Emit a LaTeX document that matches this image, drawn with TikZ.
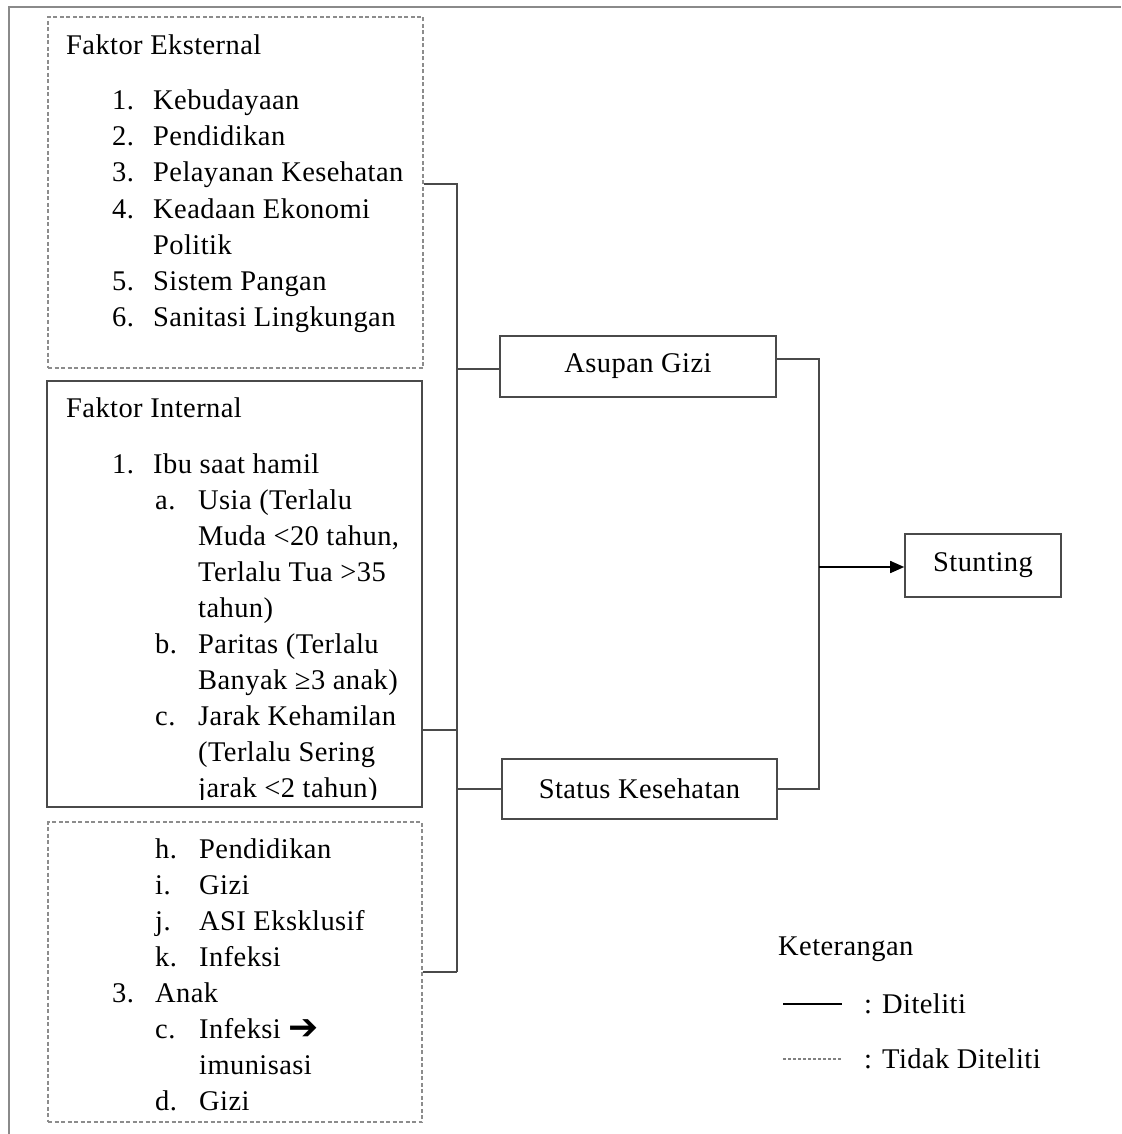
\documentclass[tikz,border=0pt]{standalone}
\usepackage{fontspec}
\setmainfont{Liberation Serif}[LetterSpace=1.5]
\newfontfamily\symfont{DejaVu Sans}
\usetikzlibrary{arrows.meta}
\definecolor{lineC}{HTML}{4A4A4A}
\definecolor{dashC}{HTML}{8C8C8C}
\definecolor{frameC}{HTML}{8A8A8A}
\tikzset{
  solidbox/.style={draw=lineC, line width=1.6pt, rectangle, inner sep=0pt},
  dashbox/.style={draw=dashC, line width=1.2pt, dash pattern=on 4pt off 2.5pt, rectangle, inner sep=0pt},
  conn/.style={draw=lineC, line width=1.6pt},
  txt/.style={anchor=base west, inner sep=0pt},
}
\begin{document}
\begin{tikzpicture}[x=1pt, y=-1pt, font=\fontsize{28.5}{34}\selectfont]
\useasboundingbox (0,0) rectangle (1121,1134);
% outer frame
\draw[frameC, line width=1.6pt] (9,1134) -- (9,7) -- (1121,7);

% boxes
\node[dashbox, minimum width=375, minimum height=351] (ext) at (235.5,192.5) {};
\node[solidbox, minimum width=375, minimum height=426] (int) at (234.5,594) {};
\node[dashbox, minimum width=374, minimum height=300] (low) at (235,972) {};
\node[solidbox, minimum width=276, minimum height=61] (asupan) at (638,366.5) {Asupan Gizi};
\node[solidbox, minimum width=275, minimum height=60] (status) at (639.5,789) {Status Kesehatan};
\node[solidbox, minimum width=156, minimum height=63] (stunting) at (983,565.5) {Stunting};

% external text
\node[txt] (e0) at (66,55) {Faktor Eksternal};
\node[txt] (e1n) at (112,110) {1.}; \node[txt] (e1) at (153,110) {Kebudayaan};
\node[txt] (e2n) at (112,146) {2.}; \node[txt] (e2) at (153,146) {Pendidikan};
\node[txt] (e3n) at (112,182) {3.}; \node[txt] (e3) at (153,182) {Pelayanan Kesehatan};
\node[txt] (e4n) at (112,218) {4.}; \node[txt] (e4) at (153,218) {Keadaan Ekonomi};
\node[txt] (e4b) at (153,254) {Politik};
\node[txt] (e5n) at (112,290) {5.}; \node[txt] (e5) at (153,290) {Sistem Pangan};
\node[txt] (e6n) at (112,326) {6.}; \node[txt] (e6) at (153,326) {Sanitasi Lingkungan};

% internal text
\node[txt] (i0) at (66,417) {Faktor Internal};
\node[txt] (i1n) at (112,473) {1.}; \node[txt] (i1) at (153,473) {Ibu saat hamil};
\node[txt] (ian) at (155,509) {a.}; \node[txt] (ia1) at (198,509) {Usia (Terlalu};
\node[txt] (ia2) at (198,545) {Muda <20 tahun,};
\node[txt] (ia3) at (198,581) {Terlalu Tua >35};
\node[txt] (ia4) at (198,617) {tahun)};
\node[txt] (ibn) at (155,653) {b.}; \node[txt] (ib1) at (198,653) {Paritas (Terlalu};
\node[txt] (ib2) at (198,689) {Banyak ≥3 anak)};
\node[txt] (icn) at (155,725) {c.}; \node[txt] (ic1) at (198,725) {Jarak Kehamilan};
\node[txt] (ic2) at (198,761) {(Terlalu Sering};
\begin{scope}
\clip (47,381) rectangle (421,799);
\node[txt] (ic3) at (198,797) {jarak <2 tahun)};
\end{scope}

% lower text
\node[txt] (lhn) at (155,858) {h.}; \node[txt] (lh) at (199,858) {Pendidikan};
\node[txt] (lin) at (155,894) {i.}; \node[txt] (li) at (199,894) {Gizi};
\node[txt] (ljn) at (155,930) {j.}; \node[txt] (lj) at (199,930) {ASI Eksklusif};
\node[txt] (lkn) at (155,966) {k.}; \node[txt] (lk) at (199,966) {Infeksi};
\node[txt] (l3n) at (112,1002) {3.}; \node[txt] (l3) at (155,1002) {Anak};
\node[txt] (lcn) at (155,1038) {c.}; \node[txt] (lc) at (199,1038) {Infeksi {\symfont\bfseries\fontsize{36}{40}\selectfont\raisebox{-1pt}{➔}}};
\node[txt] (lc2) at (199,1074) {imunisasi};
\node[txt] (ldn) at (155,1110) {d.}; \node[txt] (ld) at (199,1110) {Gizi};

% junctions
\coordinate (j1) at (457,184);
\coordinate (j2) at (457,730);
\coordinate (j3) at (457,972);
\coordinate (aL) at (457,369);
\coordinate (r1) at (819,359);
\coordinate (r2) at (819,789);
\coordinate (rm) at (819,567);

% connectors
\draw[conn] (ext.east |- j1) -- (j1) -- (j3);
\draw[conn] (int.east |- j2) -- (j2);
\draw[conn] (low.east |- j3) -- (j3);
\draw[conn] (aL) -- (asupan.west |- aL);
\draw[conn] (j1 |- status.west) -- (status.west);
\draw[conn] (asupan.east |- r1) -- (r1) -- (r2) -- (status.east |- r2);
\draw[line width=1.6pt, -{Triangle[length=14pt,width=12pt]}] (rm) -- (stunting.west |- rm);

% legend
\node[txt] (ket) at (778,955) {Keterangan};
\coordinate (ls1) at (783,1004); \coordinate (ls2) at (842,1004);
\coordinate (ld1) at (783,1059); \coordinate (ld2) at (842,1059);
\draw[black, line width=1.4pt] (ls1) -- (ls2);
\draw[gray, line width=1.1pt, dash pattern=on 3pt off 2pt] (ld1) -- (ld2);
\node[txt] (lg1) at (864,1013) {: Diteliti};
\node[txt] (lg2) at (864,1068) {: Tidak Diteliti};
\end{tikzpicture}
\end{document}
